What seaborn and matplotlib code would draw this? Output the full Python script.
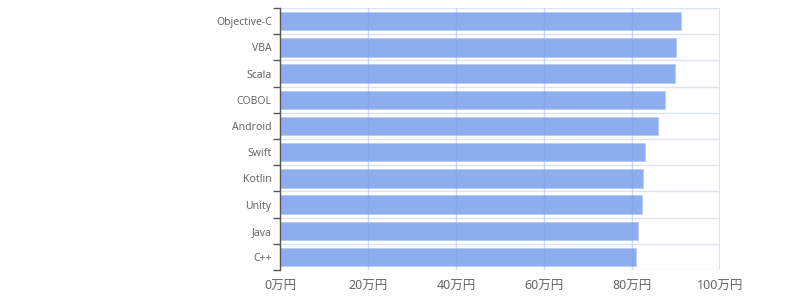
import matplotlib
matplotlib.use("Agg")
import matplotlib.pyplot as plt
import seaborn as sns
import pandas as pd
import numpy as np

categories = ["Objective-C", "VBA", "Scala", "COBOL", "Android",
              "Swift", "Kotlin", "Unity", "Java", "C++"]
values = [91.2, 89.9, 89.7, 87.4, 86.0, 82.9, 82.6, 82.3, 81.3, 80.8]
xticks = [0, 20, 40, 60, 80, 100]
xtick_labels = ["0万円", "20万円", "40万円", "60万円", "80万円", "100万円"]

sns.set_theme(style="white")
plt.rcParams['font.family'] = ['Noto Sans', 'Noto Sans CJK JP', 'DejaVu Sans']

df = pd.DataFrame({"lang": categories, "salary": values})

fig = plt.figure(figsize=(8, 3), dpi=100)
ax = fig.add_axes([0.35, 0.1, 0.55, 0.873])

sns.barplot(data=df, y="lang", x="salary", orient="h", ax=ax,
            color="#5d8be7", saturation=1, alpha=0.7, width=0.7,
            edgecolor="#b3c8f3", linewidth=0.6, zorder=2)

ax.set_xlim(0, 100)
ax.set_ylim(len(categories) - 0.5, -0.5)
ax.set_xlabel("")
ax.set_ylabel("")

ax.set_xticks(xticks)
ax.set_xticklabels(xtick_labels, fontsize=9, color="#666666")
ax.tick_params(axis="x", length=0, pad=7)
ax.tick_params(axis="y", which="major", left=False, length=0, labelsize=7.5,
               labelcolor="#666666", pad=6)

bounds = np.arange(-0.5, len(categories), 1.0)
ax.set_yticks(bounds, minor=True)
ax.tick_params(axis="y", which="minor", left=True, length=5, width=1,
               color="#555555", direction="out")

for b in bounds:
    ax.axhline(b, color="#dde3f1", lw=1, zorder=1)
for x in xticks[1:]:
    if x < 100:
        ax.axvline(x, color="#7d9be0", lw=1, zorder=3, alpha=0.35)
    else:
        ax.axvline(x, color="#d6ddef", lw=1.2, zorder=1)

for s in ["top", "right", "bottom"]:
    ax.spines[s].set_visible(False)
ax.spines["left"].set_color("#555555")
ax.spines["left"].set_linewidth(1)
ax.spines["left"].set_zorder(4)

fig.savefig("out.png", dpi=100)
